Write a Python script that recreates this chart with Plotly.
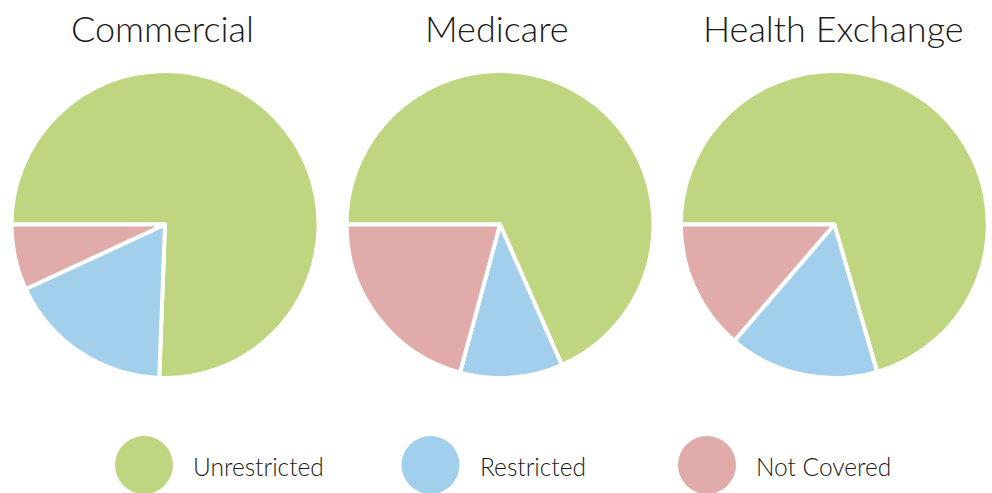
import plotly.graph_objects as go

# ---- data ----
plans = ["Commercial", "Medicare", "Health Exchange"]
categories = ["Unrestricted", "Restricted", "Not Covered"]
commercial = [75.6, 17.5, 6.9]
medicare = [68.4, 10.8, 20.8]
health_exchange = [70.5, 15.8, 13.7]
colors = ["#C0D580", "#A2CFEC", "#E1ABAA"]

W, H = 992, 493
series = [commercial, medicare, health_exchange]
centers = [(165.0, 224.5), (500.0, 224.5), (834.3, 224.5)]
radius = 153.5

fig = go.Figure()
for name, vals, (cx, cy) in zip(plans, series, centers):
    cyb = H - cy
    fig.add_trace(go.Pie(
        labels=categories, values=vals, name=name,
        sort=False, direction="clockwise", rotation=270,
        marker=dict(colors=colors, line=dict(color="white", width=4)),
        textinfo="none", hoverinfo="label+percent", showlegend=False,
        domain=dict(x=[(cx - radius) / W, (cx + radius) / W],
                    y=[(cyb - radius) / H, (cyb + radius) / H]),
    ))

# custom legend: big circles + labels
legend_x = [144.0, 430.5, 707.0]
legend_y = H - 465
fig.add_trace(go.Scatter(
    x=legend_x, y=[legend_y] * len(categories), mode="markers",
    marker=dict(size=58, color=colors, line=dict(width=0)),
    cliponaxis=False, hoverinfo="skip", showlegend=False,
))

font_family = "Lato, 'Liberation Sans', sans-serif"
annotations = []
for lx, cat in zip(legend_x, categories):
    annotations.append(dict(
        x=lx + 47, y=legend_y - 1, xref="x", yref="y", text=cat,
        showarrow=False, xanchor="left", yanchor="middle",
        font=dict(family=font_family, size=24.5, color="#1a1a1a", weight=300),
    ))
title_x = [162.0, 497.0, 833.0]
for tx, name in zip(title_x, plans):
    annotations.append(dict(
        x=tx / W, y=1 - 28 / H, xref="paper", yref="paper", text=name,
        showarrow=False, xanchor="center", yanchor="middle",
        font=dict(family=font_family, size=36, color="#1a1a1a", weight=300),
    ))

fig.update_layout(
    width=W, height=H,
    margin=dict(l=0, r=0, t=0, b=0),
    paper_bgcolor="white", plot_bgcolor="rgba(0,0,0,0)",
    xaxis=dict(range=[0, W], domain=[0, 1], visible=False, fixedrange=True),
    yaxis=dict(range=[0, H], domain=[0, 1], visible=False, fixedrange=True),
    annotations=annotations,
    showlegend=False,
)

fig.write_html(
    "out.html",
    config={"displayModeBar": False},
    post_script="document.body.style.margin='0';document.body.style.overflow='hidden';",
)
